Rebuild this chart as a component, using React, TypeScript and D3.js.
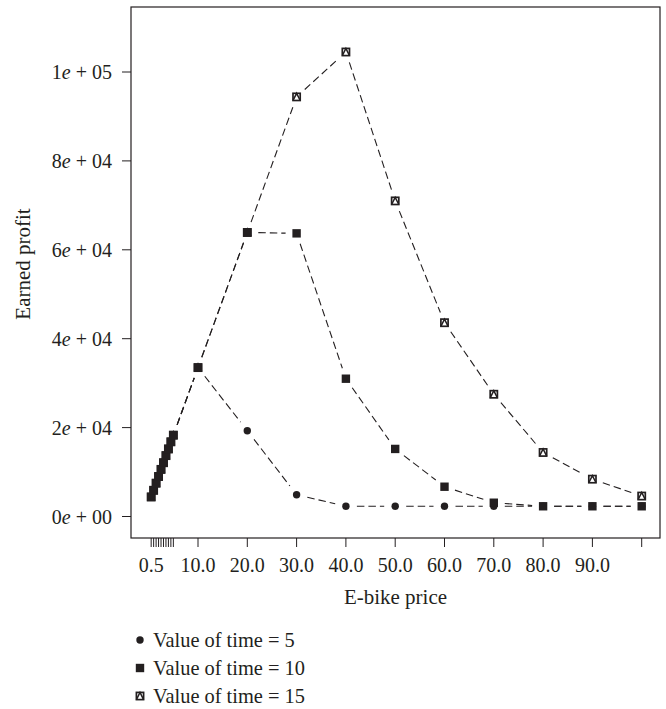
import React from "react";
import * as d3 from "d3";

const prices = [0.5, 1, 1.5, 2, 2.5, 3, 3.5, 4, 4.5, 5, 10, 20, 30, 40, 50, 60, 70, 80, 90, 100];
const lowProfit = [4400, 5900, 7500, 9000, 10600, 12100, 13700, 15200, 16800, 18300];
const vot5 = [...lowProfit, 33500, 19300, 4900, 2300, 2300, 2300, 2300, 2300, 2300, 2300];
const vot10 = [...lowProfit, 33500, 63900, 63700, 31000, 15200, 6700, 3100, 2300, 2300, 2300];
const vot15 = [...lowProfit, 33500, 63900, 94400, 104500, 71000, 43600, 27500, 14400, 8400, 4600];

const xMajorTicks = [0.5, 10, 20, 30, 40, 50, 60, 70, 80, 90, 100];
const xMajorLabels = ["0.5", "10.0", "20.0", "30.0", "40.0", "50.0", "60.0", "70.0", "80.0", "90.0", ""];
const xMinorTicks = [1, 1.5, 2, 2.5, 3, 3.5, 4, 4.5, 5];
const yTicks = [0, 20000, 40000, 60000, 80000, 100000];
const yLabelMant = ["0", "2", "4", "6", "8", "1"];
const yLabelExp = ["00", "04", "04", "04", "04", "05"];

const legendLabels = ["Value of time = 5", "Value of time = 10", "Value of time = 15"];

const INK = "#231f20";
const FONT = "'Liberation Serif', 'DejaVu Serif', serif";

const box = { left: 131, right: 660, top: 7, bottom: 538 };

const x = d3.scaleLinear().domain([0, 100]).range([148.7, 641.7]);
const y = d3.scaleLinear().domain([0, 100000]).range([516.5, 72]);

type Shape = "circle" | "square" | "tri";

function Marker({ cx, cy, shape }: { cx: number; cy: number; shape: Shape }) {
  if (shape === "circle") return <circle cx={cx} cy={cy} r={3.7} fill={INK} />;
  if (shape === "square")
    return <rect x={cx - 4.2} y={cy - 4.2} width={8.4} height={8.4} fill={INK} />;
  return (
    <g>
      <rect x={cx - 3.6} y={cy - 3.6} width={7.2} height={7.2} fill="#fff" stroke={INK} strokeWidth={1.7} />
      <path
        d={`M${cx - 3.6},${cy + 3.6}L${cx},${cy - 3.6}L${cx + 3.6},${cy + 3.6}`}
        fill="none"
        stroke={INK}
        strokeWidth={1.5}
      />
    </g>
  );
}

function Series({ values, shape }: { values: number[]; shape: Shape }) {
  const pts = prices.map((p, i) => [x(p), y(values[i])] as [number, number]);
  const gap = 11;
  const segs: React.ReactNode[] = [];
  for (let i = 0; i < pts.length - 1; i++) {
    const [x1, y1] = pts[i];
    const [x2, y2] = pts[i + 1];
    const L = Math.hypot(x2 - x1, y2 - y1);
    if (L <= 2 * gap + 1) continue;
    const ux = (x2 - x1) / L;
    const uy = (y2 - y1) / L;
    segs.push(
      <line
        key={i}
        x1={x1 + ux * gap}
        y1={y1 + uy * gap}
        x2={x2 - ux * gap}
        y2={y2 - uy * gap}
        stroke={INK}
        strokeWidth={1.1}
        strokeDasharray="7.5 4"
      />
    );
  }
  return (
    <g>
      {segs}
      {pts.map(([px, py], i) => (
        <Marker key={i} cx={px} cy={py} shape={shape} />
      ))}
    </g>
  );
}

export default function App() {
  const legendShapes: Shape[] = ["circle", "square", "tri"];
  const legendY = [640, 668, 696];
  return (
    <svg
      width={666}
      height={709}
      style={{ position: "absolute", left: 0, top: 0, background: "#fff" }}
      fontFamily={FONT}
    >
      <rect x={0} y={0} width={666} height={709} fill="#fff" />
      <rect
        x={box.left}
        y={box.top}
        width={box.right - box.left}
        height={box.bottom - box.top}
        fill="none"
        stroke={INK}
        strokeWidth={1.2}
      />
      {/* y axis */}
      {yTicks.map((t, i) => (
        <g key={t}>
          <line x1={box.left - 9} x2={box.left} y1={y(t)} y2={y(t)} stroke={INK} strokeWidth={1} />
          <text x={112} y={y(t)} dy="0.35em" textAnchor="end" fontSize={20} fill={INK}>
            {yLabelMant[i]}
            <tspan fontStyle="italic">e</tspan>
            {" + "}
            {yLabelExp[i]}
          </text>
        </g>
      ))}
      <text
        transform={`translate(30,264) rotate(-90)`}
        textAnchor="middle"
        fontSize={21}
        fill={INK}
      >
        Earned profit
      </text>
      {/* x axis */}
      {xMajorTicks.map((t, i) => (
        <g key={t}>
          <line x1={x(t)} x2={x(t)} y1={box.bottom} y2={box.bottom + 9} stroke={INK} strokeWidth={1} />
          <text x={x(t)} y={572} textAnchor="middle" fontSize={20} fill={INK}>
            {xMajorLabels[i]}
          </text>
        </g>
      ))}
      {xMinorTicks.map((t) => (
        <line key={t} x1={x(t)} x2={x(t)} y1={box.bottom} y2={box.bottom + 9} stroke={INK} strokeWidth={1} />
      ))}
      <text x={(box.left + box.right) / 2} y={604} textAnchor="middle" fontSize={21} fill={INK}>
        E-bike price
      </text>
      {/* series */}
      <Series values={vot15} shape="tri" />
      <Series values={vot5} shape="circle" />
      <Series values={vot10} shape="square" />
      {/* legend */}
      {legendLabels.map((lab, i) => (
        <g key={lab}>
          <Marker cx={140} cy={legendY[i]} shape={legendShapes[i]} />
          <text x={153} y={legendY[i]} dy="0.35em" fontSize={20.4} fill={INK}>
            {lab}
          </text>
        </g>
      ))}
    </svg>
  );
}
